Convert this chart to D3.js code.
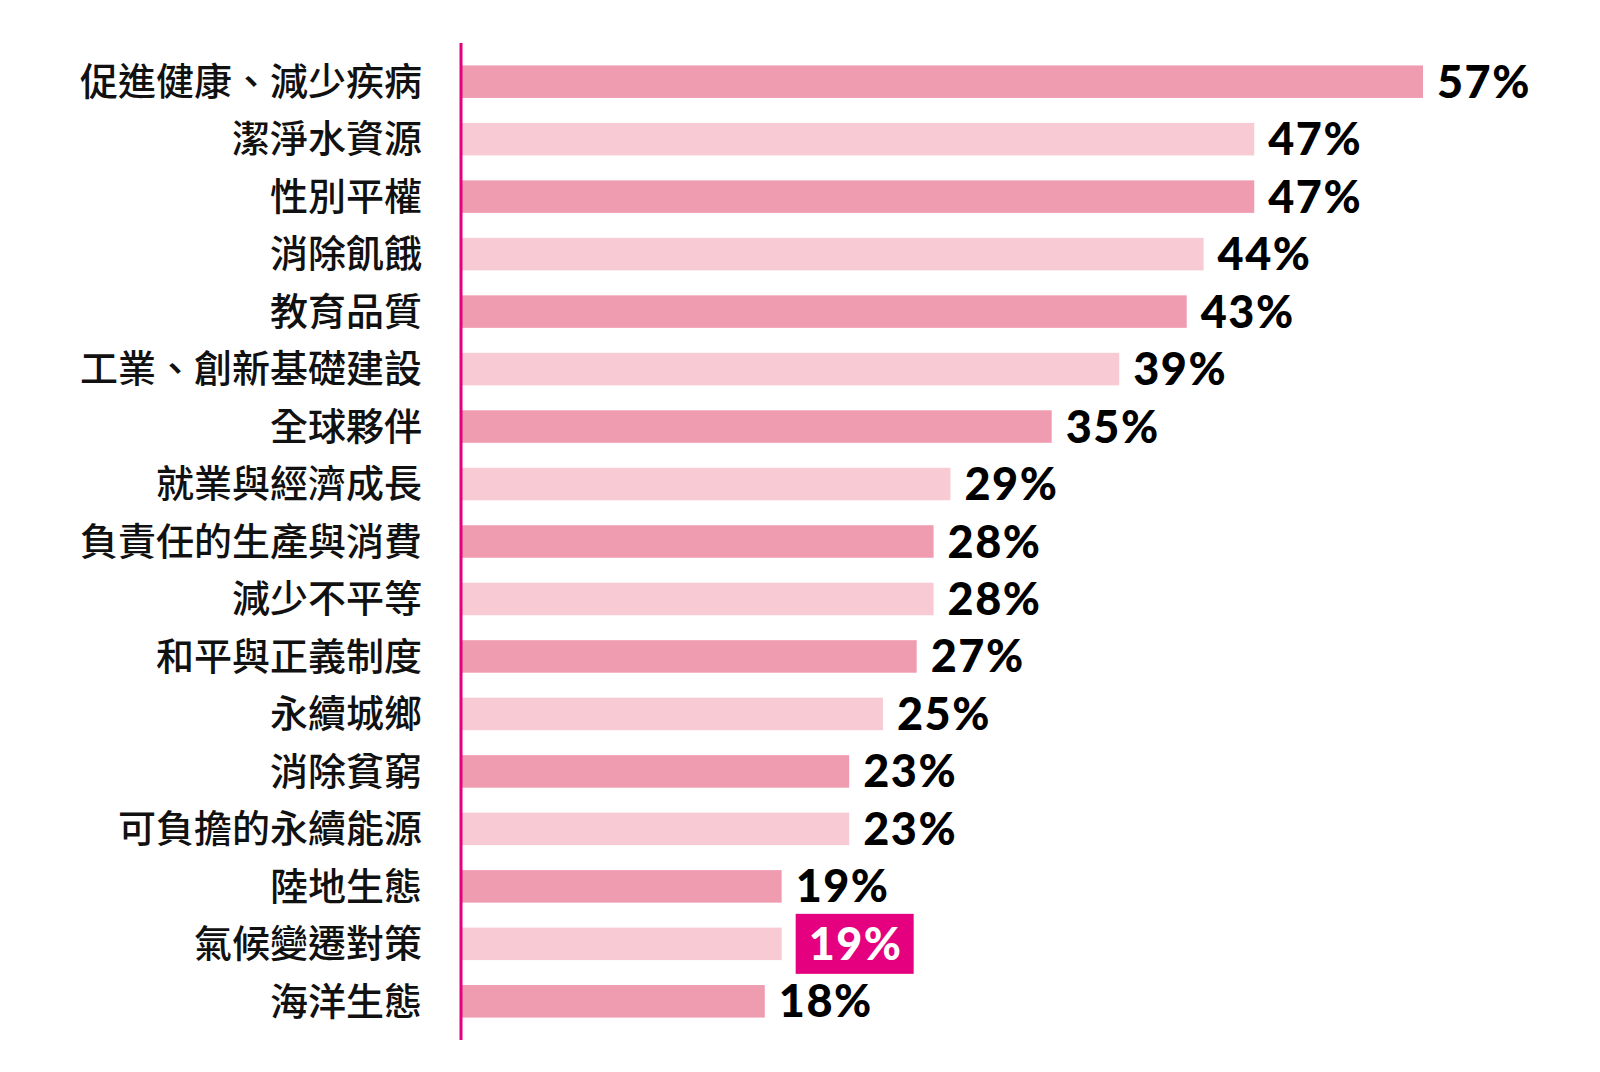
<!DOCTYPE html>
<html>
<head>
<meta charset="utf-8">
<script src="https://cdn.jsdelivr.net/npm/d3@7"></script>
<style>
  html, body { margin: 0; padding: 0; background: #fff; }
  svg { display: block; }
</style>
</head>
<body>
<svg id="svg" width="1600" height="1072"></svg>
<script>
'use strict';

const categories = [
  '促進健康、減少疾病', '潔淨水資源', '性別平權', '消除飢餓', '教育品質',
  '工業、創新基礎建設', '全球夥伴', '就業與經濟成長', '負責任的生產與消費',
  '減少不平等', '和平與正義制度', '永續城鄉', '消除貧窮', '可負擔的永續能源',
  '陸地生態', '氣候變遷對策', '海洋生態'
];
const values = [57, 47, 47, 44, 43, 39, 35, 29, 28, 28, 27, 25, 23, 23, 19, 19, 18];
const highlighted = ['氣候變遷對策'];

const DARK = '#F09CB0';
const LIGHT = '#F7CAD4';
const MAGENTA = '#E4007F';

const data = categories.map((c, i) => ({ name: c, value: values[i], i }));

const svg = d3.select('#svg');

const y = d3.scaleBand()
  .domain(categories)
  .range([43, 1040])
  .paddingInner(0.434)
  .paddingOuter(0.39);

const x = d3.scaleLinear()
  .domain([0, 57])
  .range([461, 1423]);

// Bars
svg.append('g')
  .selectAll('rect')
  .data(data)
  .join('rect')
  .attr('x', x(0))
  .attr('y', d => y(d.name))
  .attr('width', d => x(d.value) - x(0))
  .attr('height', y.bandwidth())
  .attr('fill', d => (d.i % 2 === 0 ? DARK : LIGHT));

// Category labels
const yAxis = d3.axisLeft(y).tickSize(0).tickPadding(39);
svg.append('g')
  .attr('transform', `translate(${x(0)},0)`)
  .call(yAxis)
  .call(g => g.select('.domain').remove())
  .selectAll('text')
  .attr('font-family', '"Noto Sans CJK TC", sans-serif')
  .attr('font-weight', 500)
  .attr('font-size', 38)
  .attr('fill', '#111')
  .attr('dy', '0.35em');

// Vertical axis line
svg.append('line')
  .attr('x1', x(0)).attr('x2', x(0))
  .attr('y1', y.range()[0]).attr('y2', y.range()[1])
  .attr('stroke', MAGENTA)
  .attr('stroke-width', 3);

// Value labels
const labels = svg.append('g')
  .selectAll('g')
  .data(data)
  .join('g')
  .attr('transform', d => `translate(${x(d.value) + 14},${y(d.name) + y.bandwidth() / 2})`);

labels.filter(d => highlighted.includes(d.name))
  .append('rect')
  .attr('x', 0)
  .attr('y', -30)
  .attr('width', 118)
  .attr('height', 60)
  .attr('fill', MAGENTA);

labels.append('text')
  .attr('x', d => (highlighted.includes(d.name) ? 13 : 0))
  .attr('y', 16)
  .attr('font-family', 'Lato, sans-serif')
  .attr('font-weight', 900)
  .attr('font-size', 45)
  .attr('letter-spacing', 1.5)
  .attr('fill', d => (highlighted.includes(d.name) ? '#fff' : '#000'))
  .text(d => d.value + '%');
</script>
</body>
</html>
